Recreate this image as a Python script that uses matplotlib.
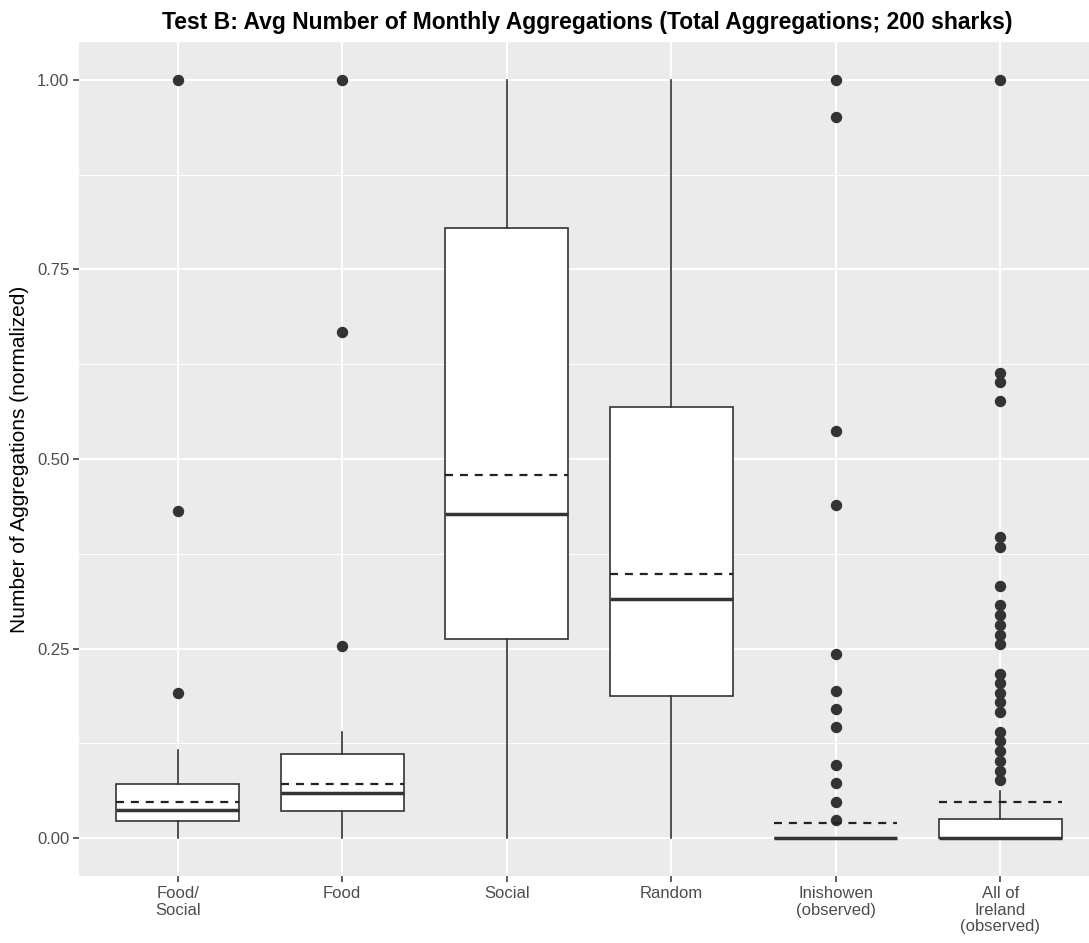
import matplotlib
matplotlib.use("Agg")
import matplotlib.pyplot as plt
from matplotlib.ticker import MultipleLocator

plt.rcParams['font.family'] = ['Liberation Sans', 'DejaVu Sans']

# -------------------------
# dados (valores normalizados)
# -------------------------
grupos = ["Food/\nSocial", "Food", "Social", "Random",
          "Inishowen\n(observed)", "All of\nIreland\n(observed)"]

q1 = [0.022, 0.036, 0.262, 0.188, 0.0, 0.0]
mediana = [0.037, 0.059, 0.427, 0.315, 0.0, 0.0]
q3 = [0.071, 0.111, 0.805, 0.569, 0.0, 0.025]
bigode_min = [0.0, 0.0, 0.0, 0.0, 0.0, 0.0]
bigode_max = [0.116, 0.140, 1.0, 1.0, 0.0, 0.062]
media = [0.047, 0.072, 0.479, 0.348, 0.020, 0.048]

outliers = [
    [0.192, 0.431, 1.0],
    [0.254, 0.667, 1.0],
    [],
    [],
    [0.024, 0.048, 0.073, 0.097, 0.146, 0.170, 0.194, 0.243,
     0.439, 0.537, 0.951, 1.0],
    [0.077, 0.089, 0.102, 0.115, 0.128, 0.140, 0.166, 0.179, 0.191,
     0.204, 0.217, 0.256, 0.268, 0.281, 0.294, 0.307, 0.332, 0.384,
     0.397, 0.576, 0.602, 0.614, 1.0],
]

# -------------------------
# figura no estilo ggplot
# -------------------------
fig = plt.figure(figsize=(10.89, 9.43), dpi=100)
ax = fig.add_axes([79 / 1089, 67 / 943, 1020 / 1089, 834 / 943])
ax.set_facecolor("#EBEBEB")
for s in ax.spines.values():
    s.set_visible(False)

estatisticas = []
for i in range(len(grupos)):
    estatisticas.append({
        "q1": q1[i], "med": mediana[i], "q3": q3[i],
        "whislo": bigode_min[i], "whishi": bigode_max[i],
        "mean": media[i], "fliers": outliers[i],
    })

posicoes = list(range(1, len(grupos) + 1))
ax.bxp(
    estatisticas,
    positions=posicoes,
    widths=0.75,
    patch_artist=True,
    showmeans=True,
    meanline=True,
    showcaps=False,
    boxprops=dict(facecolor="white", edgecolor="#333333", linewidth=1.2),
    medianprops=dict(color="#333333", linewidth=2.5, solid_capstyle="butt"),
    whiskerprops=dict(color="#333333", linewidth=1.2),
    meanprops=dict(color="#222222", linewidth=1.6, linestyle=(0, (3.6, 3.1))),
    flierprops=dict(marker="o", markerfacecolor="#333333",
                    markeredgecolor="#333333", markersize=7.2),
    zorder=3,
)

ax.set_xlim(0.4, 6.6)
ax.set_ylim(-0.05, 1.05)
ax.yaxis.set_major_locator(MultipleLocator(0.25))
ax.yaxis.set_minor_locator(MultipleLocator(0.125))
ax.set_yticks([0, 0.25, 0.5, 0.75, 1.0])
ax.set_yticklabels(["0.00", "0.25", "0.50", "0.75", "1.00"])
ax.set_xticks(posicoes)
ax.set_xticklabels(grupos, linespacing=1.15)

ax.grid(True, which="major", color="white", linewidth=1.4, zorder=0)
ax.grid(True, which="minor", axis="y", color="white", linewidth=0.7, zorder=0)
ax.set_axisbelow(True)

ax.tick_params(axis="both", which="major", length=4, width=1.1,
               color="#333333", labelcolor="#4D4D4D", labelsize=12, pad=3)
ax.tick_params(axis="both", which="minor", length=0)

ax.set_ylabel("Number of Aggregations (normalized)", fontsize=15, labelpad=6)
ax.set_title("Test B: Avg Number of Monthly Aggregations "
             "(Total Aggregations; 200 sharks)",
             fontsize=16.5, fontweight="bold", pad=9, x=0.498)

fig.savefig("out.png", dpi=100)
